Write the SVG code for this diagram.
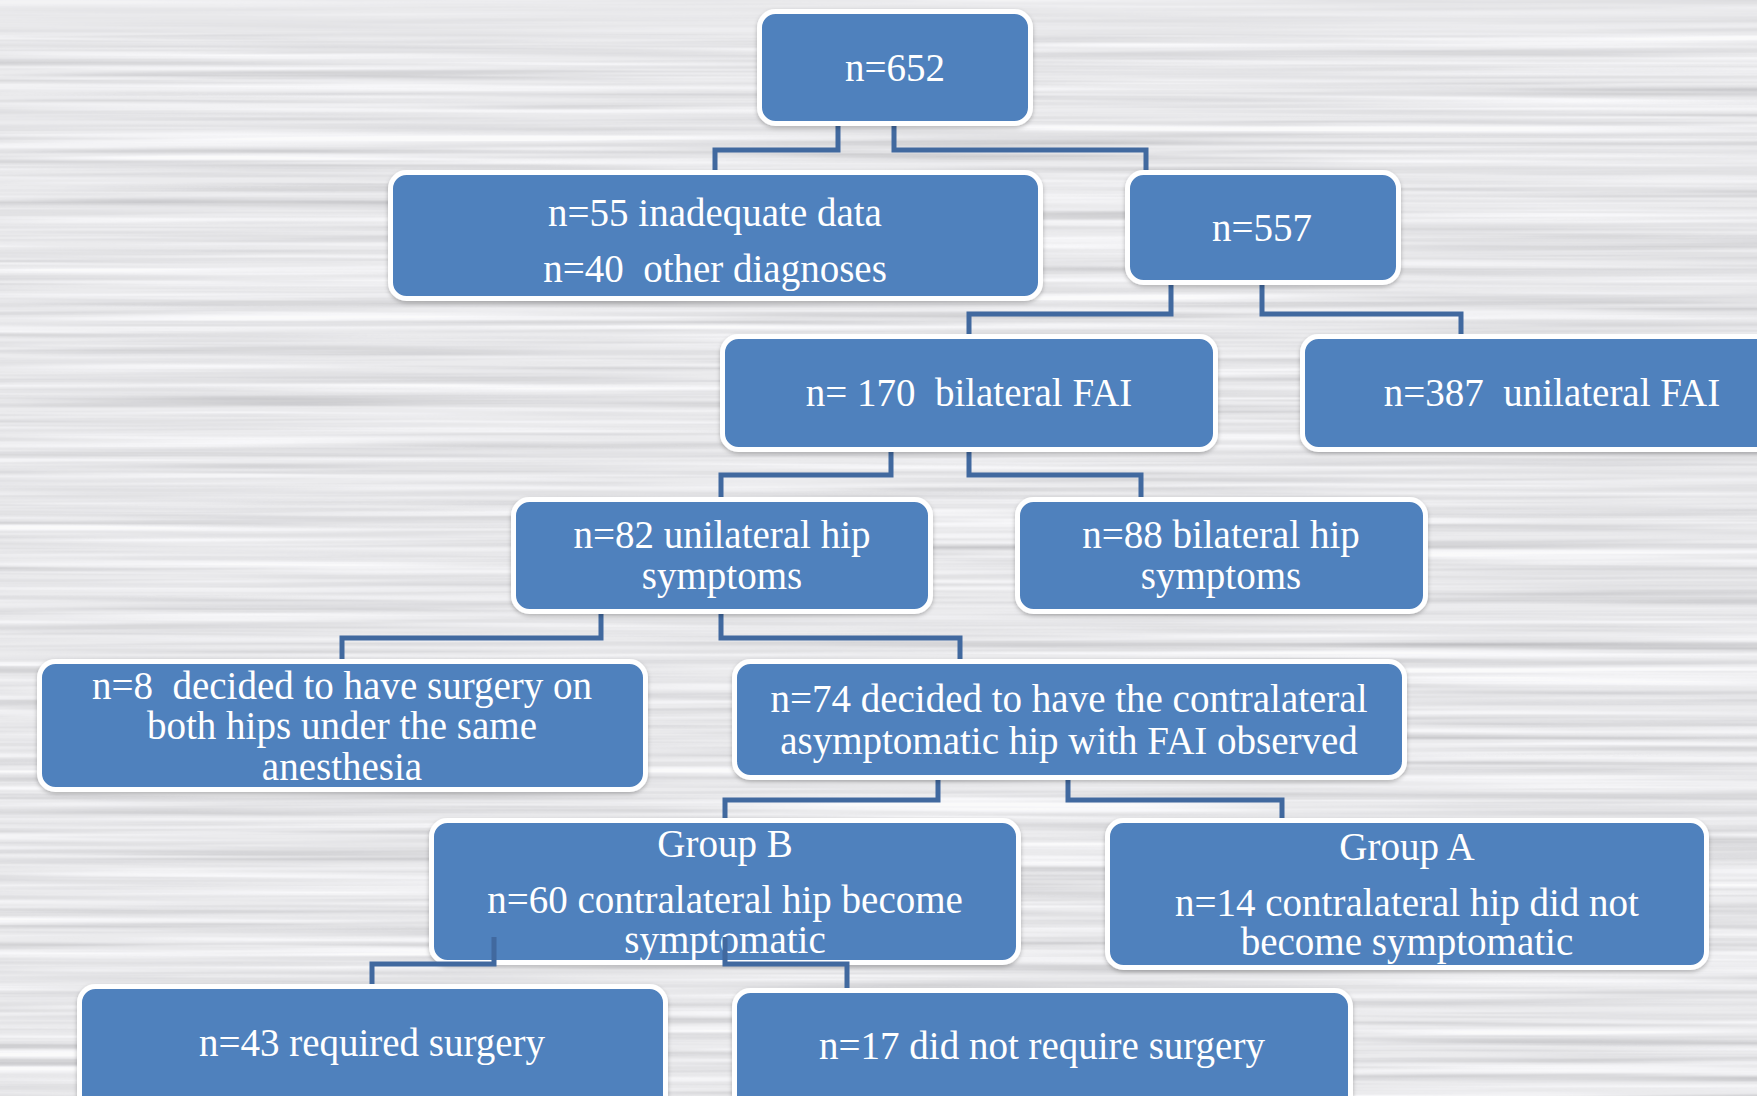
<svg xmlns="http://www.w3.org/2000/svg" width="1757" height="1096" viewBox="0 0 1757 1096">
<defs>
<filter id="brush" x="0" y="0" width="100%" height="100%">
<feTurbulence type="fractalNoise" baseFrequency="0.0015 0.12" numOctaves="3" seed="4" result="n"/>
<feColorMatrix type="matrix" values="0.33 0.33 0.33 0 0  0.33 0.33 0.33 0 0  0.33 0.33 0.33 0 0  0 0 0 0 1"/>
<feComponentTransfer><feFuncR type="linear" slope="1.0" intercept="0.33"/><feFuncG type="linear" slope="1.0" intercept="0.33"/><feFuncB type="linear" slope="1.0" intercept="0.35"/></feComponentTransfer>
</filter>
<filter id="shadow" x="-5%" y="-5%" width="110%" height="115%">
<feDropShadow dx="0" dy="2" stdDeviation="2" flood-color="#000" flood-opacity="0.25"/>
</filter>
</defs>
<style>
.box{fill:#4f81bd;stroke:#ffffff;stroke-width:5;filter:url(#shadow)}
.t{font-family:"Liberation Serif","DejaVu Serif",serif;font-size:39px;fill:#ffffff;text-anchor:middle}
.c{fill:none;stroke:#41699f;stroke-width:5}
</style>
<rect x="0" y="0" width="1757" height="1096" fill="#d0d0d2"/>
<rect x="0" y="0" width="1757" height="1096" filter="url(#brush)" opacity="0.9"/>
<rect x="0" y="0" width="1757" height="34" fill="#ececee" opacity="0.45"/>
<g id="connectors">
<path class="c" d="M838,126 V150 H715 V170"/>
<path class="c" d="M894,126 V150 H1146 V170"/>
<path class="c" d="M1171,285 V314 H969 V334"/>
<path class="c" d="M1262,285 V314 H1461 V334"/>
<path class="c" d="M891,452 V475 H721 V497"/>
<path class="c" d="M969,452 V475 H1141 V497"/>
<path class="c" d="M601,614 V638 H342 V659"/>
<path class="c" d="M721,614 V638 H960 V659"/>
<path class="c" d="M938,780 V800 H725 V818"/>
<path class="c" d="M1068,780 V800 H1282 V818"/>
</g>
<g id="n652"><rect class="box" x="759.5" y="11.5" width="271" height="112" rx="16"/><text class="t" x="895" y="81">n=652</text></g>
<g id="n55"><rect class="box" x="390.5" y="172.5" width="650" height="126" rx="16"/><text class="t" x="715" y="226">n=55 inadequate data</text><text class="t" x="715" y="282" xml:space="preserve">n=40  other diagnoses</text></g>
<g id="n557"><rect class="box" x="1127.5" y="172.5" width="271" height="110" rx="16"/><text class="t" x="1262" y="241">n=557</text></g>
<g id="n170"><rect class="box" x="722.5" y="336.5" width="493" height="113" rx="16"/><text class="t" x="969" y="406" xml:space="preserve">n= 170  bilateral FAI</text></g>
<g id="n387"><rect class="box" x="1302.5" y="336.5" width="480" height="113" rx="16"/><text class="t" x="1552" y="406" xml:space="preserve">n=387  unilateral FAI</text></g>
<g id="n82"><rect class="box" x="513.5" y="499.5" width="417" height="112" rx="16"/><text class="t" x="722" y="548">n=82 unilateral hip</text><text class="t" x="722" y="589">symptoms</text></g>
<g id="n88"><rect class="box" x="1017.5" y="499.5" width="408" height="112" rx="16"/><text class="t" x="1221" y="548">n=88 bilateral hip</text><text class="t" x="1221" y="589">symptoms</text></g>
<g id="n8"><rect class="box" x="39.5" y="661.5" width="606" height="128" rx="16"/><text class="t" x="342" y="699" xml:space="preserve">n=8  decided to have surgery on</text><text class="t" x="342" y="739">both hips under the same</text><text class="t" x="342" y="780">anesthesia</text></g>
<g id="n74"><rect class="box" x="734.5" y="661.5" width="670" height="116" rx="16"/><text class="t" x="1069" y="712">n=74 decided to have the contralateral</text><text class="t" x="1069" y="754">asymptomatic hip with FAI observed</text></g>
<g id="groupB"><rect class="box" x="431.5" y="820.5" width="587" height="142" rx="16"/><text class="t" x="725" y="857">Group B</text><text class="t" x="725" y="913">n=60 contralateral hip become</text><text class="t" x="725" y="953">symptomatic</text></g>
<g id="groupA"><rect class="box" x="1107.5" y="820.5" width="599" height="147" rx="16"/><text class="t" x="1407" y="860">Group A</text><text class="t" x="1407" y="916">n=14 contralateral hip did not</text><text class="t" x="1407" y="955">become symptomatic</text></g>
<g id="n43"><rect class="box" x="79.5" y="986.5" width="586" height="130" rx="16"/><text class="t" x="372" y="1056">n=43 required surgery</text></g>
<g id="n17"><rect class="box" x="734.5" y="990.5" width="616" height="130" rx="16"/><text class="t" x="1042" y="1059">n=17 did not require surgery</text></g>
<g id="connectors-b">
<path class="c" d="M494,937 V964 H372 V984"/>
<path class="c" d="M725,937 V964 H847 V988"/>
</g>
</svg>
